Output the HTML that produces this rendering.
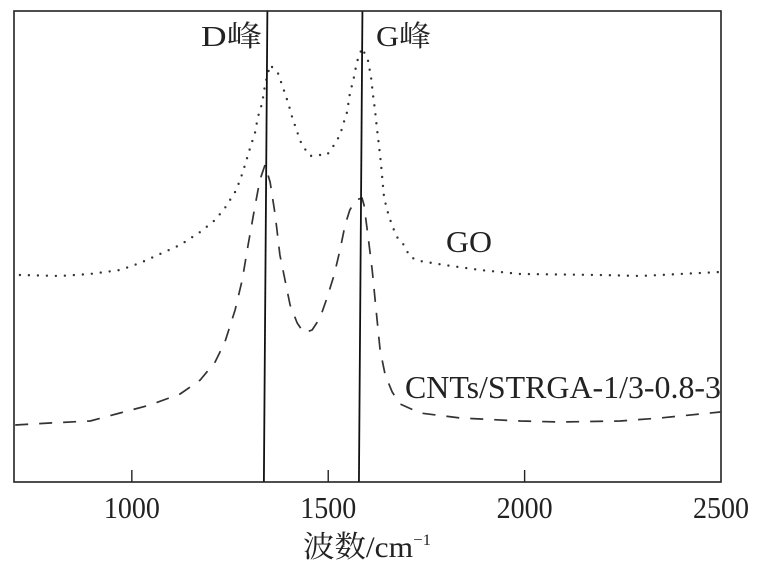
<!DOCTYPE html>
<html><head><meta charset="utf-8">
<style>
html,body{margin:0;padding:0;background:#fff;}
svg{display:block;}
text{font-family:"Liberation Serif","Noto Serif CJK SC",serif;fill:#222;}
</style></head>
<body>
<svg id="chart" width="761" height="569" viewBox="0 0 761 569" xmlns="http://www.w3.org/2000/svg">
  <g id="plot"></g>
  <rect x="14" y="11" width="707" height="471" fill="none" stroke="#222" stroke-width="1.6"/>
  <g id="ticks"></g>
  <text x="201" y="46" font-size="29" textLength="61" lengthAdjust="spacingAndGlyphs">D峰</text>
  <text x="376" y="46" font-size="29" textLength="55" lengthAdjust="spacingAndGlyphs">G峰</text>
  <text x="446" y="252" font-size="31" textLength="46" lengthAdjust="spacingAndGlyphs">GO</text>
  <text x="405" y="398" font-size="32" textLength="316" lengthAdjust="spacingAndGlyphs">CNTs/STRGA-1/3-0.8-3</text>
  <text x="303" y="557" font-size="30" textLength="128" lengthAdjust="spacingAndGlyphs">波数/cm<tspan font-size="16" dy="-12">−1</tspan></text>
</svg>
<script>
const xTicks = [1000, 1500, 2000, 2500];
const goWave = [715,817,894,970,1021,1072,1123,1174,1212,1237,1263,1276,1288,1301,1314,1321,1332,1339,1352,1372,1385,1398,1408,1421,1433,1454,1474,1497,1515,1530,1540,1548,1555,1565,1573,1586,1601,1609,1614,1619,1624,1629,1634,1642,1650,1663,1678,1693,1708,1734,1795,1887,1989,2192,2294,2447,2498];
const goIntensity = [207,206,208,212,219,228,237,250,262,274,290,302,317,334,350,365,379,397,417,409,394,379,365,350,337,326,327,327,337,347,360,370,388,404,420,434,422,405,387,372,354,337,319,285,272,256,243,237,225,221,217,212,208,207,206,209,210];
const cntWave = [703,792,894,970,1046,1123,1174,1212,1237,1263,1281,1296,1314,1326,1339,1352,1365,1377,1390,1403,1421,1438,1459,1479,1497,1515,1530,1543,1555,1571,1586,1591,1601,1612,1622,1632,1645,1663,1683,1734,1836,1989,2090,2243,2345,2447,2498];
const cntIntensity = [57,59,61,69,77,88,102,120,140,172,202,237,277,302,317,300,267,227,202,177,159,149,152,164,184,207,232,257,272,282,284,277,247,212,172,132,107,90,78,69,64,61,60,61,64,68,70];
const peakLines = [1340, 1582];

const X0 = 14, X1 = 721, Y0 = 482, Y1 = 11;
const xMin = 700, xMax = 2500, yMin = 0, yMax = 471;
function sx(v){ return X0 + (v - xMin) / (xMax - xMin) * (X1 - X0); }
function sy(v){ return Y0 - (v - yMin) / (yMax - yMin) * (Y0 - Y1); }
const NS = "http://www.w3.org/2000/svg";
const plot = document.getElementById('plot');
const ticks = document.getElementById('ticks');

function series(wave, inten, name, dash, width, cap){
  const p = document.createElementNS(NS, 'polyline');
  p.setAttribute('points', wave.map((w,i)=>sx(w).toFixed(1)+','+sy(inten[i]).toFixed(1)).join(' '));
  p.setAttribute('fill','none');
  p.setAttribute('stroke','#333');
  p.setAttribute('stroke-width', width);
  p.setAttribute('stroke-dasharray', dash);
  p.setAttribute('stroke-linecap', cap);
  p.setAttribute('stroke-linejoin','round');
  
  
  plot.appendChild(p);
}
series(goWave, goIntensity, 'go-dotted-line', '0 9', 2.4, 'round');
series(cntWave, cntIntensity, 'cnts-dashed-line', '13 11', 1.7, 'butt');

peakLines.forEach((w,i)=>{
  const l = document.createElementNS(NS,'line');
  l.setAttribute('x1', sx(w)+2); l.setAttribute('y1', Y1);
  l.setAttribute('x2', sx(w)-1.5); l.setAttribute('y2', Y0);
  l.setAttribute('stroke','#111'); l.setAttribute('stroke-width','1.8');
  
  
  plot.appendChild(l);
});

xTicks.forEach(t=>{
  const x = sx(t);
  if (t < xMax) {
    const tk = document.createElementNS(NS,'line');
    tk.setAttribute('x1', x); tk.setAttribute('x2', x);
    tk.setAttribute('y1', Y0); tk.setAttribute('y2', Y0-12);
    tk.setAttribute('stroke','#222'); tk.setAttribute('stroke-width','1.4');
    
    
    ticks.appendChild(tk);
  }
  const tx = document.createElementNS(NS,'text');
  tx.setAttribute('x', x); tx.setAttribute('y', 518);
  tx.setAttribute('text-anchor','middle'); tx.setAttribute('font-size','31');
  tx.setAttribute('textLength','56');
  tx.setAttribute('lengthAdjust','spacingAndGlyphs');
  tx.textContent = t;
  
  
  ticks.appendChild(tx);
});
</script>
</body></html>
